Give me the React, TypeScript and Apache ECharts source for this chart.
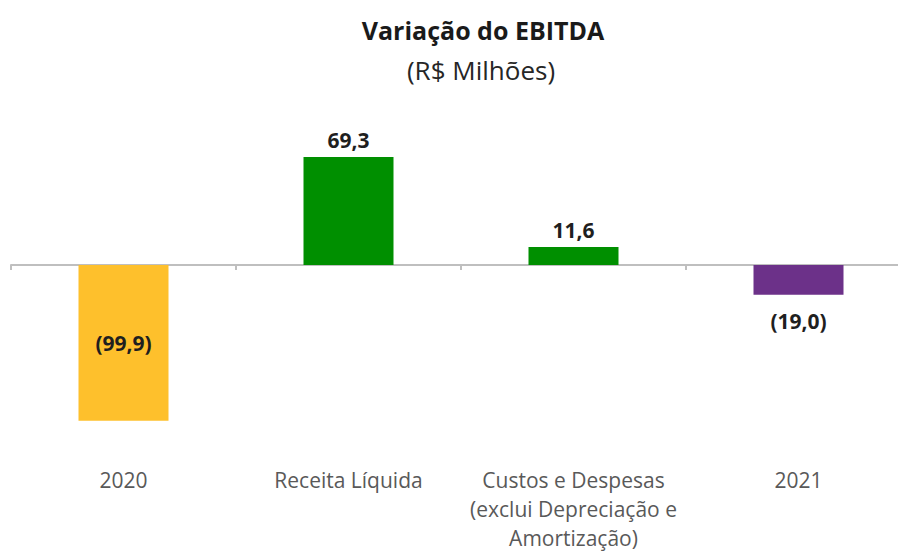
import React, { useEffect, useRef } from "react";
import * as echarts from "echarts";

const categories = [
  "2020",
  "Receita Líquida",
  "Custos e Despesas\n(exclui Depreciação e\nAmortização)",
  "2021",
];
const values = [-99.9, 69.3, 11.6, -19.0];
const barColors = ["#FEC02C", "#008F00", "#008F00", "#6C3189"];
const labelPositions = ["inside", "top", "top", "bottom"];
const titleText = "Variação do EBITDA";
const subtitleText = "(R$ Milhões)";

const FONT = "'Open Sans', 'Noto Sans', sans-serif";

function fmt(v: number): string {
  const s = Math.abs(v).toFixed(1).replace(".", ",");
  return v < 0 ? `(${s})` : s;
}

export default function App() {
  const ref = useRef<HTMLDivElement>(null);
  useEffect(() => {
    if (!ref.current) return;
    const chart = echarts.init(ref.current, undefined, { renderer: "svg" });
    chart.setOption({
      animation: false,
      backgroundColor: "#ffffff",
      graphic: [
        {
          type: "text",
          x: 483,
          y: 30,
          style: {
            text: titleText,
            font: `bold 25px ${FONT}`,
            fill: "#1a1a1a",
            textAlign: "center",
            textVerticalAlign: "middle",
          },
        },
        {
          type: "text",
          x: 481,
          y: 70,
          style: {
            text: subtitleText,
            font: `26px ${FONT}`,
            fill: "#262626",
            textAlign: "center",
            textVerticalAlign: "middle",
          },
        },
      ],
      grid: { left: 11, width: 900, top: 109, height: 343.2, outerBoundsMode: "none", containLabel: false },
      xAxis: {
        type: "category",
        data: categories,
        axisLine: { onZero: true, lineStyle: { color: "#BFBFBF", width: 2 } },
        axisTick: { show: true, length: 5, lineStyle: { color: "#BFBFBF", width: 2 } },
        axisLabel: {
          margin: 13,
          interval: 0,
          color: "#595959",
          fontSize: 21,
          lineHeight: 29,
          fontFamily: FONT,
        },
      },
      yAxis: {
        type: "value",
        min: -120,
        max: 100,
        show: false,
        splitLine: { show: false },
      },
      series: [
        {
          type: "bar",
          barWidth: 90,
          data: values.map((v, i) => ({
            value: v,
            itemStyle: { color: barColors[i] },
            label: {
              show: true,
              position: labelPositions[i],
              distance: labelPositions[i] === "bottom" ? 16 : 6,
              formatter: () => fmt(v),
              fontFamily: FONT,
              fontWeight: "bold",
              fontSize: 21,
              color: "#1f1f1f",
            },
          })),
        },
      ],
    });
    return () => chart.dispose();
  }, []);
  return <div ref={ref} style={{ width: 898, height: 551, position: "absolute", left: 0, top: 0 }} />;
}
